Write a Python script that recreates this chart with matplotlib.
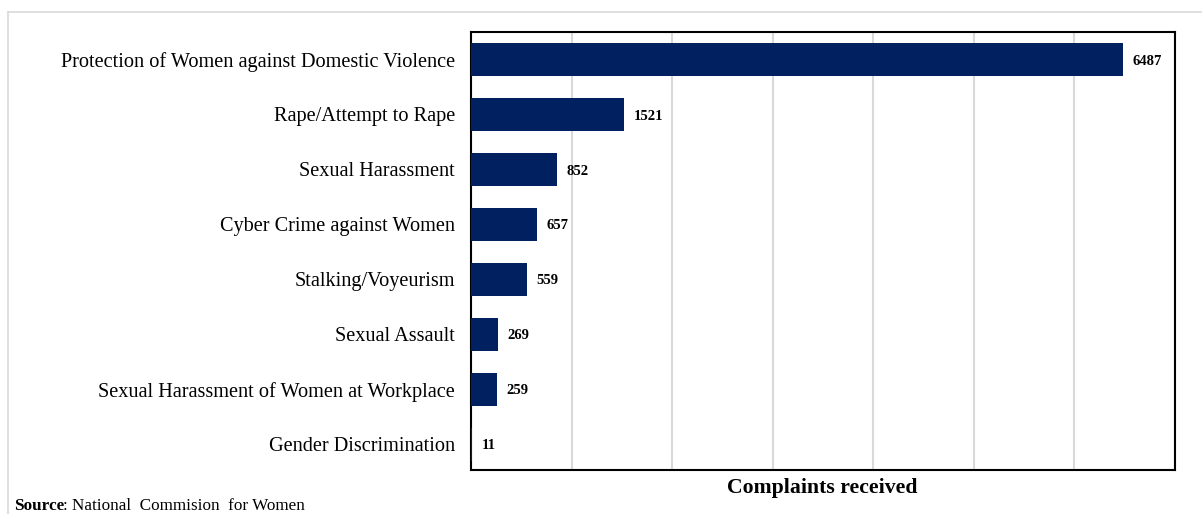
import matplotlib.pyplot as plt
from matplotlib.lines import Line2D

categories = ['Protection of Women against Domestic Violence', 'Rape/Attempt to Rape',
              'Sexual Harassment', 'Cyber Crime against Women', 'Stalking/Voyeurism',
              'Sexual Assault', 'Sexual Harassment of Women at Workplace', 'Gender Discrimination']
complaints = [6487, 1521, 852, 657, 559, 269, 259, 11]
xticks = [0, 1000, 2000, 3000, 4000, 5000, 6000, 7000]

def main():
    plt.rcParams['font.family'] = ['Liberation Serif', 'DejaVu Serif']
    fig = plt.figure(figsize=(12.02, 5.14), dpi=100)
    ax = fig.add_axes([471/1202, 1-470/514, (1175-471)/1202, (470-32)/514])

    ypos = list(range(len(categories)))
    ax.barh(ypos, complaints, height=0.6, color='#002060', zorder=3)
    for y, v in zip(ypos, complaints):
        ax.text(v + 95, y + 0.03, str(v), va='center', ha='left', fontsize=10.5,
                fontweight='bold', zorder=4)

    ax.set_yticks(ypos)
    ax.set_yticklabels(categories, fontsize=14.6)
    ax.set_ylim(7.47, -0.5)
    ax.set_xlim(0, 7000)
    ax.set_xticks(xticks)
    ax.set_xticklabels([])
    ax.tick_params(axis='both', length=0)
    ax.tick_params(axis='y', pad=11.5)
    ax.tick_params(axis='x', pad=0)
    ax.grid(axis='x', color='#d9d9d9', linewidth=1.5, zorder=0)
    for s in ax.spines.values():
        s.set_linewidth(1.5)
        s.set_color('black')

    fig.text(822/1202, 1-488/514, 'Complaints received', ha='center', va='center',
             fontsize=15.7, fontweight='bold')
    fig.text(14/1202, 1-506/514, 'Source', ha='left', va='center', fontsize=12.3,
             fontweight='bold')
    fig.text(63/1202, 1-506/514, ': National  Commision  for Women', ha='left',
             va='center', fontsize=12.3)

    # light frame around the chart area
    fig.add_artist(Line2D([8/1202, 1], [1-12/514, 1-12/514], color='#d9d9d9',
                          linewidth=1.2, transform=fig.transFigure))
    fig.add_artist(Line2D([8/1202, 8/1202], [0, 1-12/514], color='#d9d9d9',
                          linewidth=1.2, transform=fig.transFigure))

    fig.savefig('out.png', dpi=100)

if __name__ == '__main__':
    main()
